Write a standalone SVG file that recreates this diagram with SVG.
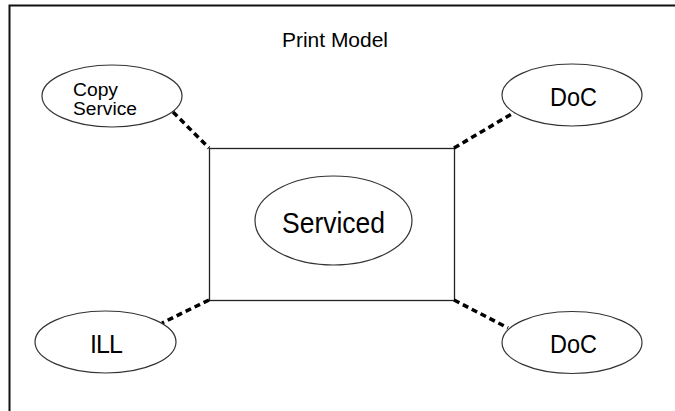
<svg xmlns="http://www.w3.org/2000/svg" width="675" height="411" viewBox="0 0 675 411">
<style>
  .node ellipse { fill: #ffffff; stroke: #333333; stroke-width: 1.2; }
  .box { fill: #ffffff; stroke: #222222; stroke-width: 1.3; }
  .lbl { font-family: "Liberation Sans", Arial, sans-serif; fill: #000000; }
  .conn line { stroke: #000000; stroke-width: 3.5; stroke-dasharray: 6 4; }
  .frame { stroke: #111111; stroke-width: 2; fill: none; }
</style>
<rect width="675" height="411" fill="#ffffff"/>
<path class="frame" d="M9.5 411 V5.5 H675"/>
<text class="lbl" x="282" y="47" font-size="20.5" textLength="106" lengthAdjust="spacingAndGlyphs">Print  Model</text>
<g id="center">
  <rect class="box" x="209.5" y="148.5" width="245" height="152"/>
</g>
<g class="conn" id="connectors">
  <line x1="173" y1="112" x2="209" y2="148"/>
  <line x1="454" y1="148" x2="515" y2="112"/>
  <line x1="209" y1="300" x2="162" y2="323"/>
  <line x1="454" y1="300" x2="508" y2="328"/>
</g>
<g id="serviced" class="node">
  <ellipse cx="333.5" cy="220.5" rx="78.5" ry="44.5"/>
  <text class="lbl" x="282" y="233" font-size="30" textLength="103" lengthAdjust="spacingAndGlyphs">Serviced</text>
</g>
<g id="copy-service" class="node">
  <ellipse cx="112" cy="96" rx="70" ry="31"/>
  <text class="lbl" x="73" y="96" font-size="17.5" textLength="45" lengthAdjust="spacingAndGlyphs">Copy</text>
  <text class="lbl" x="73" y="115" font-size="17.5" textLength="64" lengthAdjust="spacingAndGlyphs">Service</text>
</g>
<g id="doc-top" class="node">
  <ellipse cx="572" cy="95" rx="70" ry="31"/>
  <text class="lbl" x="550" y="106" font-size="25" textLength="47" lengthAdjust="spacingAndGlyphs">DoC</text>
</g>
<g id="ill" class="node">
  <ellipse cx="105.5" cy="342" rx="70.5" ry="31"/>
  <text class="lbl" x="90" y="353" font-size="25" textLength="33" lengthAdjust="spacing">ILL</text>
</g>
<g id="doc-bottom" class="node">
  <ellipse cx="572" cy="342.5" rx="70" ry="31"/>
  <text class="lbl" x="550" y="353" font-size="25" textLength="47" lengthAdjust="spacingAndGlyphs">DoC</text>
</g>
</svg>
